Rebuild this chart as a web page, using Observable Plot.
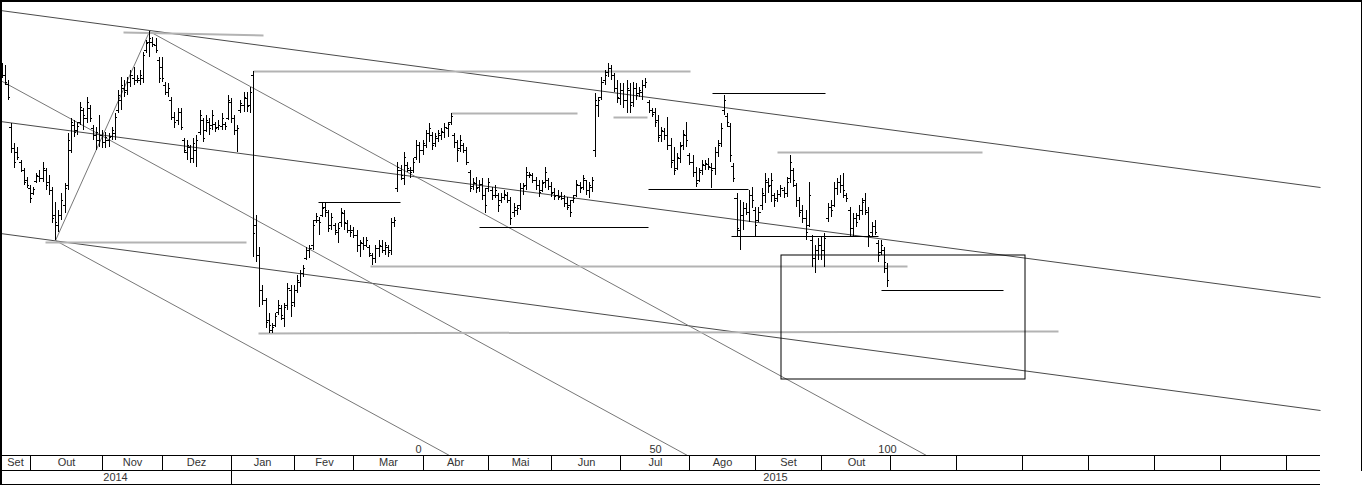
<!DOCTYPE html>
<html>
<head>
<meta charset="utf-8">
<script src="https://cdn.jsdelivr.net/npm/d3@7"></script>
<script src="https://cdn.jsdelivr.net/npm/@observablehq/plot@0.6"></script>
<style>
  html, body { margin: 0; padding: 0; background: #fff; }
  #chart { position: relative; width: 1364px; height: 485px; overflow: hidden; }
  #chart svg { display: block; }
  .edge { position: absolute; background: #000; }
</style>
</head>
<body>
<div id="chart"></div>
<script>
// Daily OHLC bars, one per trading session (index 0 = first session shown)
const high = [
  39.2, 39.0, 37.5, 33.2, 31.2, 30.8, 29.5, 28.7, 27.8, 27.0,
  26.8, 28.2, 28.5, 29.3, 28.7, 28.0, 26.8, 25.3, 24.5, 26.2,
  27.2, 32.2, 33.7, 33.5, 33.3, 35.3, 34.7, 35.8, 35.0, 33.0,
  32.8, 34.0, 32.5, 32.3, 32.2, 32.8, 34.2, 36.5, 37.8, 37.5,
  37.8, 38.5, 38.8, 38.0, 38.5, 40.3, 41.5, 42.4, 41.8, 41.7,
  39.8, 39.8, 37.3, 37.2, 35.8, 34.3, 34.7, 34.7, 31.7, 31.5,
  31.0, 31.7, 32.0, 34.5, 33.7, 34.0, 33.7, 34.5, 33.3, 33.5,
  34.2, 33.3, 36.0, 35.7, 34.0, 33.0, 35.5, 36.3, 36.3, 36.8,
  38.4, 24.0, 20.8, 17.0, 15.7, 14.2, 13.2, 14.2, 15.5, 15.0,
  15.2, 17.2, 17.0, 17.0, 18.0, 18.5, 19.0, 20.8, 21.0, 23.5,
  24.2, 23.8, 25.2, 25.2, 24.5, 24.2, 23.2, 23.2, 24.7, 24.5,
  23.5, 23.0, 22.8, 22.5, 21.5, 21.8, 21.8, 21.0, 20.2, 21.0,
  21.5, 21.5, 21.3, 21.0, 23.7, 23.8, 29.3, 29.0, 30.3, 29.3,
  28.8, 29.7, 31.5, 31.3, 31.5, 32.5, 33.2, 32.3, 32.2, 32.5,
  32.7, 33.2, 33.3, 34.2, 32.2, 31.5, 32.0, 31.2, 30.8, 28.5,
  27.7, 27.8, 27.5, 27.7, 26.7, 27.7, 26.8, 27.0, 26.2, 26.2,
  26.5, 26.3, 25.8, 25.2, 25.0, 27.2, 27.2, 28.8, 28.3, 28.2,
  27.8, 27.5, 27.5, 28.8, 27.7, 27.3, 26.7, 26.5, 26.3, 26.0,
  25.8, 25.5, 26.0, 27.5, 27.3, 28.0, 27.5, 27.3, 27.8, 36.2,
  35.8, 37.8, 38.5, 39.2, 39.0, 38.2, 37.5, 37.2, 37.2, 37.5,
  37.2, 37.3, 37.2, 36.8, 37.5, 37.7, 35.5, 34.7, 34.7, 34.0,
  32.8, 32.7, 33.8, 31.7, 30.8, 30.2, 31.3, 32.5, 33.3, 30.2,
  30.0, 28.8, 28.7, 29.5, 29.5, 29.7, 29.2, 30.8, 31.5, 33.2,
  36.0, 34.2, 33.2, 29.2, 26.2, 25.5, 25.3, 25.2, 26.5, 26.8,
  24.8, 24.8, 26.7, 28.2, 27.7, 28.2, 26.2, 26.5, 27.0, 26.8,
  27.8, 30.0, 28.7, 27.2, 25.8, 25.0, 24.5, 27.3, 22.0, 21.0,
  21.7, 21.8, 22.2, 25.2, 25.5, 27.3, 27.7, 28.0, 28.2, 26.2,
  24.8, 24.2, 24.2, 25.0, 25.7, 26.2, 24.8, 23.3, 23.5, 21.5,
  21.5, 20.8, 19.2
];
const low = [
  37.7, 37.0, 35.5, 30.2, 28.7, 29.5, 28.3, 27.0, 26.7, 25.2,
  26.0, 27.2, 27.3, 27.3, 26.5, 26.0, 23.2, 21.5, 22.3, 23.5,
  24.2, 26.5, 30.2, 31.8, 32.0, 33.0, 32.5, 33.2, 33.3, 31.5,
  30.5, 30.8, 30.7, 30.7, 30.8, 31.5, 31.5, 34.2, 34.5, 35.8,
  36.0, 36.8, 37.0, 37.2, 37.0, 37.2, 40.2, 39.8, 40.8, 40.2,
  37.2, 37.3, 36.0, 35.8, 33.5, 32.7, 33.0, 32.5, 30.2, 29.5,
  29.2, 29.2, 28.8, 32.0, 31.3, 32.3, 32.0, 32.5, 32.3, 32.5,
  32.5, 32.5, 33.5, 33.2, 32.0, 30.3, 34.2, 34.3, 34.3, 34.2,
  19.8, 19.3, 14.8, 15.0, 12.7, 12.2, 12.2, 12.8, 14.0, 13.5,
  12.8, 14.5, 13.8, 14.8, 16.2, 16.8, 17.8, 19.5, 19.7, 20.5,
  23.2, 22.0, 23.8, 23.8, 22.3, 22.5, 22.0, 21.2, 22.8, 22.5,
  22.2, 21.8, 21.7, 20.3, 19.8, 20.5, 20.8, 19.8, 19.0, 19.2,
  19.8, 20.2, 20.0, 19.8, 20.0, 22.8, 26.3, 27.5, 27.0, 28.3,
  27.7, 28.2, 29.5, 29.2, 30.0, 30.7, 31.3, 30.5, 30.8, 31.3,
  31.5, 31.7, 31.8, 33.0, 30.7, 29.3, 30.3, 30.2, 29.0, 26.3,
  26.5, 26.2, 26.3, 25.5, 24.2, 26.3, 25.5, 25.7, 24.3, 25.2,
  25.5, 25.2, 23.0, 23.8, 24.0, 24.5, 26.0, 26.5, 27.7, 27.2,
  26.5, 25.8, 26.3, 26.7, 26.5, 25.8, 25.5, 25.5, 25.5, 24.8,
  24.5, 23.8, 25.2, 25.8, 26.2, 26.5, 26.0, 25.7, 26.3, 29.8,
  33.8, 35.5, 37.0, 37.8, 37.5, 36.3, 35.2, 35.0, 34.7, 34.2,
  34.2, 34.8, 35.5, 35.8, 35.5, 36.7, 34.2, 33.8, 32.8, 31.3,
  31.3, 31.5, 30.5, 28.7, 28.0, 28.5, 29.2, 30.5, 30.8, 29.0,
  27.8, 26.8, 27.3, 28.0, 28.5, 28.5, 26.7, 28.0, 29.8, 30.8,
  34.0, 32.8, 29.3, 27.3, 21.8, 20.5, 22.5, 24.0, 23.3, 24.7,
  21.8, 23.3, 24.5, 25.2, 26.2, 25.3, 24.8, 25.3, 25.8, 25.7,
  25.8, 27.2, 26.8, 24.8, 23.8, 23.2, 21.5, 22.8, 18.8, 18.2,
  19.5, 19.5, 18.8, 23.3, 23.8, 24.8, 26.0, 26.2, 25.7, 25.3,
  21.8, 21.8, 22.8, 23.5, 24.0, 24.0, 20.8, 21.8, 22.0, 19.3,
  20.0, 18.2, 16.8
];
const open = [
  38.9, 38.0, 37.1, 32.8, 30.7, 30.3, 29.3, 28.5, 27.5, 26.7,
  26.2, 27.4, 27.9, 27.7, 28.5, 27.3, 26.5, 24.0, 23.0, 24.0,
  25.0, 27.0, 30.5, 33.0, 32.5, 33.3, 34.5, 33.7, 34.7, 32.7,
  32.0, 31.5, 32.0, 31.3, 31.5, 31.9, 32.2, 34.5, 35.5, 36.7,
  36.5, 37.3, 37.7, 37.5, 37.5, 37.7, 40.5, 41.3, 41.3, 41.0,
  39.5, 38.8, 37.0, 36.3, 35.5, 33.8, 33.5, 34.3, 31.5, 30.3,
  30.8, 29.7, 30.5, 32.3, 33.5, 32.5, 33.3, 33.0, 33.1, 32.8,
  32.9, 33.1, 33.7, 35.3, 33.7, 32.5, 34.5, 35.0, 35.7, 35.0,
  38.0, 23.0, 20.0, 16.5, 15.5, 13.5, 12.5, 13.0, 14.3, 14.7,
  13.7, 15.0, 16.5, 15.3, 16.5, 17.3, 18.2, 19.7, 20.5, 21.0,
  23.5, 23.5, 24.0, 24.8, 24.3, 23.0, 23.0, 22.3, 23.3, 24.2,
  23.2, 22.5, 22.5, 22.0, 21.0, 21.2, 21.0, 20.8, 20.0, 19.7,
  20.7, 20.9, 20.5, 20.8, 20.5, 23.3, 26.7, 28.5, 27.7, 29.0,
  28.5, 28.5, 29.8, 31.0, 30.5, 31.0, 32.2, 32.0, 31.2, 31.7,
  32.0, 32.3, 32.7, 33.3, 32.0, 31.3, 30.7, 31.0, 30.5, 28.3,
  26.9, 27.2, 26.8, 27.1, 26.0, 26.7, 26.5, 26.0, 26.0, 25.5,
  25.8, 26.0, 25.5, 24.3, 24.5, 25.0, 26.7, 27.0, 28.0, 28.0,
  27.5, 27.0, 26.5, 27.3, 27.5, 26.9, 26.3, 26.0, 25.9, 25.7,
  25.2, 25.0, 25.5, 26.0, 27.0, 26.8, 27.5, 26.5, 26.8, 30.5,
  35.0, 35.8, 37.5, 38.3, 38.7, 38.0, 36.7, 35.7, 36.5, 35.5,
  36.5, 35.3, 36.7, 36.2, 36.3, 37.0, 35.3, 34.5, 34.3, 33.5,
  32.0, 32.4, 32.0, 31.0, 29.5, 28.7, 29.7, 31.0, 32.0, 30.0,
  29.3, 28.3, 27.5, 28.5, 29.0, 29.1, 28.8, 28.7, 30.3, 31.2,
  34.5, 33.9, 32.9, 28.9, 25.7, 22.5, 24.0, 24.7, 24.3, 26.0,
  24.5, 23.5, 25.0, 26.0, 27.3, 27.0, 26.0, 25.7, 26.1, 26.5,
  26.2, 27.7, 28.5, 27.0, 25.5, 24.5, 23.7, 23.0, 21.5, 19.7,
  20.5, 21.0, 20.5, 23.7, 24.8, 25.0, 26.7, 27.3, 27.0, 26.0,
  24.5, 22.7, 23.7, 24.0, 24.5, 25.5, 24.3, 22.3, 22.9, 21.2,
  20.3, 20.5, 18.7
];
const close = [
  38.0, 37.3, 35.8, 30.7, 29.3, 29.8, 28.5, 27.3, 27.0, 25.7,
  26.6, 28.0, 27.7, 28.7, 27.0, 26.5, 23.7, 23.3, 24.0, 25.5,
  26.7, 31.5, 33.3, 32.3, 32.9, 34.8, 34.0, 35.3, 33.7, 32.0,
  32.3, 32.0, 31.3, 31.8, 31.8, 32.5, 33.8, 36.0, 37.0, 36.3,
  37.3, 38.0, 37.5, 37.7, 38.0, 40.0, 41.2, 41.7, 41.1, 40.5,
  37.7, 37.7, 36.3, 36.7, 33.8, 33.3, 34.3, 32.8, 30.5, 31.0,
  29.7, 31.2, 31.5, 34.0, 31.7, 33.5, 32.7, 34.0, 32.7, 33.0,
  33.7, 32.9, 35.5, 33.7, 32.5, 32.7, 35.2, 35.8, 34.9, 36.3,
  22.2, 20.0, 16.5, 15.5, 13.3, 13.0, 12.8, 13.9, 15.0, 14.0,
  14.8, 16.7, 15.0, 16.5, 17.5, 18.2, 18.7, 20.5, 20.7, 23.0,
  23.9, 23.3, 24.7, 24.5, 22.7, 23.8, 22.5, 22.7, 24.3, 23.3,
  22.5, 22.3, 22.0, 21.0, 21.3, 21.0, 21.5, 20.2, 19.7, 20.7,
  21.0, 20.5, 21.0, 20.3, 23.3, 23.5, 28.8, 28.0, 29.8, 28.7,
  28.3, 29.3, 31.0, 30.5, 31.2, 32.2, 32.7, 31.0, 31.9, 32.2,
  32.4, 32.8, 33.1, 33.9, 31.3, 30.5, 31.5, 30.5, 29.3, 26.7,
  27.3, 26.7, 27.1, 26.0, 25.0, 27.3, 26.0, 26.5, 25.0, 25.8,
  26.1, 25.5, 23.7, 24.8, 24.7, 26.7, 26.9, 28.3, 28.1, 27.5,
  27.0, 26.3, 27.2, 28.3, 26.9, 26.2, 25.9, 25.8, 25.7, 25.2,
  24.8, 24.3, 25.7, 27.1, 26.7, 27.7, 26.5, 27.0, 27.5, 35.5,
  35.5, 37.3, 38.0, 38.7, 38.0, 36.7, 35.8, 36.5, 35.5, 36.7,
  35.0, 36.7, 36.0, 36.5, 37.0, 37.3, 34.5, 34.1, 33.3, 31.8,
  32.5, 32.0, 31.0, 29.3, 28.5, 29.8, 30.9, 32.1, 31.5, 29.3,
  28.3, 27.2, 28.3, 29.1, 29.2, 28.9, 28.5, 30.3, 31.0, 32.7,
  35.5, 33.3, 30.0, 27.7, 22.7, 24.0, 24.7, 24.3, 26.0, 25.5,
  23.0, 24.3, 26.2, 27.5, 26.9, 27.5, 25.5, 26.1, 26.7, 26.2,
  27.3, 29.3, 27.5, 25.5, 24.3, 23.7, 22.3, 26.0, 19.7, 20.5,
  21.0, 20.5, 21.7, 24.8, 24.5, 26.7, 27.3, 27.0, 26.5, 25.7,
  22.7, 23.7, 23.3, 24.5, 25.3, 24.5, 22.0, 22.9, 22.3, 20.0,
  21.0, 19.3, 17.5
];

// Time axis: first session index of each month, and the year spans
const monthLabels = ["Set", "Out", "Nov", "Dez", "Jan", "Fev", "Mar", "Abr", "Mai", "Jun", "Jul", "Ago", "Set", "Out", "", "", "", "", "", "", ""];
const monthStart = [-0.554, 9, 32, 51, 73, 93, 112, 134, 155, 175, 197, 219, 240, 261, 283, 304, 325, 346, 367, 388, 409];
const yearLabels = ["2014", "2015"];
const yearStart = [-0.554, 73];
const axisEnd = 419.8;

// Session counter printed along the bottom of the price pane
const counterLabels = ["0", "50", "100"];
const counterAt = [132.6, 208.0, 281.9];

// Drawn studies: [fromIndex, toIndex, fromPrice, toPrice]
const channelLines = [
  [-0.554, 419.8, 44.5, 26.8],
  [-0.554, 419.8, 33.4, 15.8],
  [-0.554, 419.8, 22.2, 4.5]
];
const fanLines = [
  [-0.554, 218.2, 37.5, 0],
  [47, 294.4, 42.4, 0],
  [17, 142.4, 21.5, 0],
  [17, 47, 21.5, 42.4]
];
const grayLevels = [
  [38.6, 83.2, 42.3, 42.0],
  [13.8, 77.8, 21.3, 21.3],
  [80, 219.2, 38.4, 38.4],
  [117.3, 288.3, 18.9, 18.9],
  [81.6, 336.4, 12.2, 12.4],
  [143.1, 183.2, 34.2, 34.2],
  [194.7, 205.5, 33.8, 33.8],
  [246.9, 312.2, 30.3, 30.3]
];
const blackLevels = [
  [100.7, 126.8, 25.3, 25.3],
  [152.0, 205.8, 22.8, 22.8],
  [205.8, 237.7, 26.6, 26.6],
  [226.2, 262.2, 36.2, 36.2],
  [232.3, 279.1, 21.9, 21.9],
  [280.0, 318.9, 16.5, 16.5]
];
const boxes = [
  [248.2, 325.9, 20.0, 7.6]
];

const bars = high.map((h, i) => ({i, high: h, low: low[i], open: open[i], close: close[i]}));
const seg = r => ({x1: r[0], x2: r[1], y1: r[2], y2: r[3]});

const xScale = {domain: [-0.554, 433.83], axis: null, round: true};
const font = {fontFamily: "'Liberation Sans', Arial, sans-serif", fontSize: "11px", background: "transparent", overflow: "visible"};

const pricePane = Plot.plot({
  width: 1364,
  height: 455,
  margin: 0,
  x: xScale,
  y: {domain: [0, 45.5], axis: null, round: true},
  style: font,
  marks: [
    Plot.link(channelLines.map(seg), {x1: "x1", x2: "x2", y1: "y1", y2: "y2", stroke: "#4a4a4a", strokeWidth: 1}),
    Plot.link(fanLines.map(seg), {x1: "x1", x2: "x2", y1: "y1", y2: "y2", stroke: "#777", strokeWidth: 1}),
    Plot.link(grayLevels.map(seg), {x1: "x1", x2: "x2", y1: "y1", y2: "y2", stroke: "#b3b3b3", strokeWidth: 2}),
    Plot.link(blackLevels.map(seg), {x1: "x1", x2: "x2", y1: "y1", y2: "y2", stroke: "#000", strokeWidth: 1.2}),
    Plot.rect(boxes.map(seg), {x1: "x1", x2: "x2", y1: "y1", y2: "y2", fill: "none", stroke: "#000", strokeWidth: 1}),
    Plot.ruleX(bars, {x: "i", y1: "low", y2: "high", stroke: "#000", strokeWidth: 1}),
    Plot.ruleY(bars, {y: "open", x1: d => d.i - 0.65, x2: "i", stroke: "#000", strokeWidth: 1}),
    Plot.ruleY(bars, {y: "close", x1: "i", x2: d => d.i + 0.65, stroke: "#000", strokeWidth: 1}),
    Plot.text(counterLabels, {x: (d, j) => counterAt[j], y: 0.6, text: d => d, fill: "#333", textAnchor: "middle", lineAnchor: "middle"})
  ]
});

const monthEnd = j => (j + 1 < monthStart.length ? monthStart[j + 1] : axisEnd);
const yearEnd = j => (j + 1 < yearStart.length ? yearStart[j + 1] : axisEnd);

const timeAxis = Plot.plot({
  width: 1364,
  height: 30,
  margin: 0,
  x: xScale,
  y: {domain: [0, 2], range: [0, 29], axis: null, round: true},
  style: font,
  marks: [
    Plot.ruleY([0, 1, 2], {x1: -0.554, x2: axisEnd, stroke: "#000"}),
    Plot.ruleX(monthStart.slice(1), {y1: 0, y2: 1, stroke: "#000"}),
    Plot.ruleX(yearStart.slice(1), {y1: 1, y2: 2, stroke: "#000"}),
    Plot.text(monthLabels, {x: (d, j) => (monthStart[j] + monthEnd(j)) / 2, y: 0.5, text: d => d, fill: "#333", textAnchor: "middle", lineAnchor: "middle"}),
    Plot.text(yearLabels, {x: (d, j) => (yearStart[j] + yearEnd(j)) / 2, y: 1.5, text: d => d, fill: "#333", textAnchor: "middle", lineAnchor: "middle"})
  ]
});

const root = document.getElementById("chart");
root.append(pricePane, timeAxis);

// Window border: top and left full length, right edge stops above the year row
for (const [l, t, w, h] of [[0, 0, 1362, 2], [0, 0, 2, 485], [1361, 0, 1, 471]]) {
  const e = document.createElement("div");
  e.className = "edge";
  Object.assign(e.style, {left: l + "px", top: t + "px", width: w + "px", height: h + "px"});
  root.append(e);
}
</script>
</body>
</html>
